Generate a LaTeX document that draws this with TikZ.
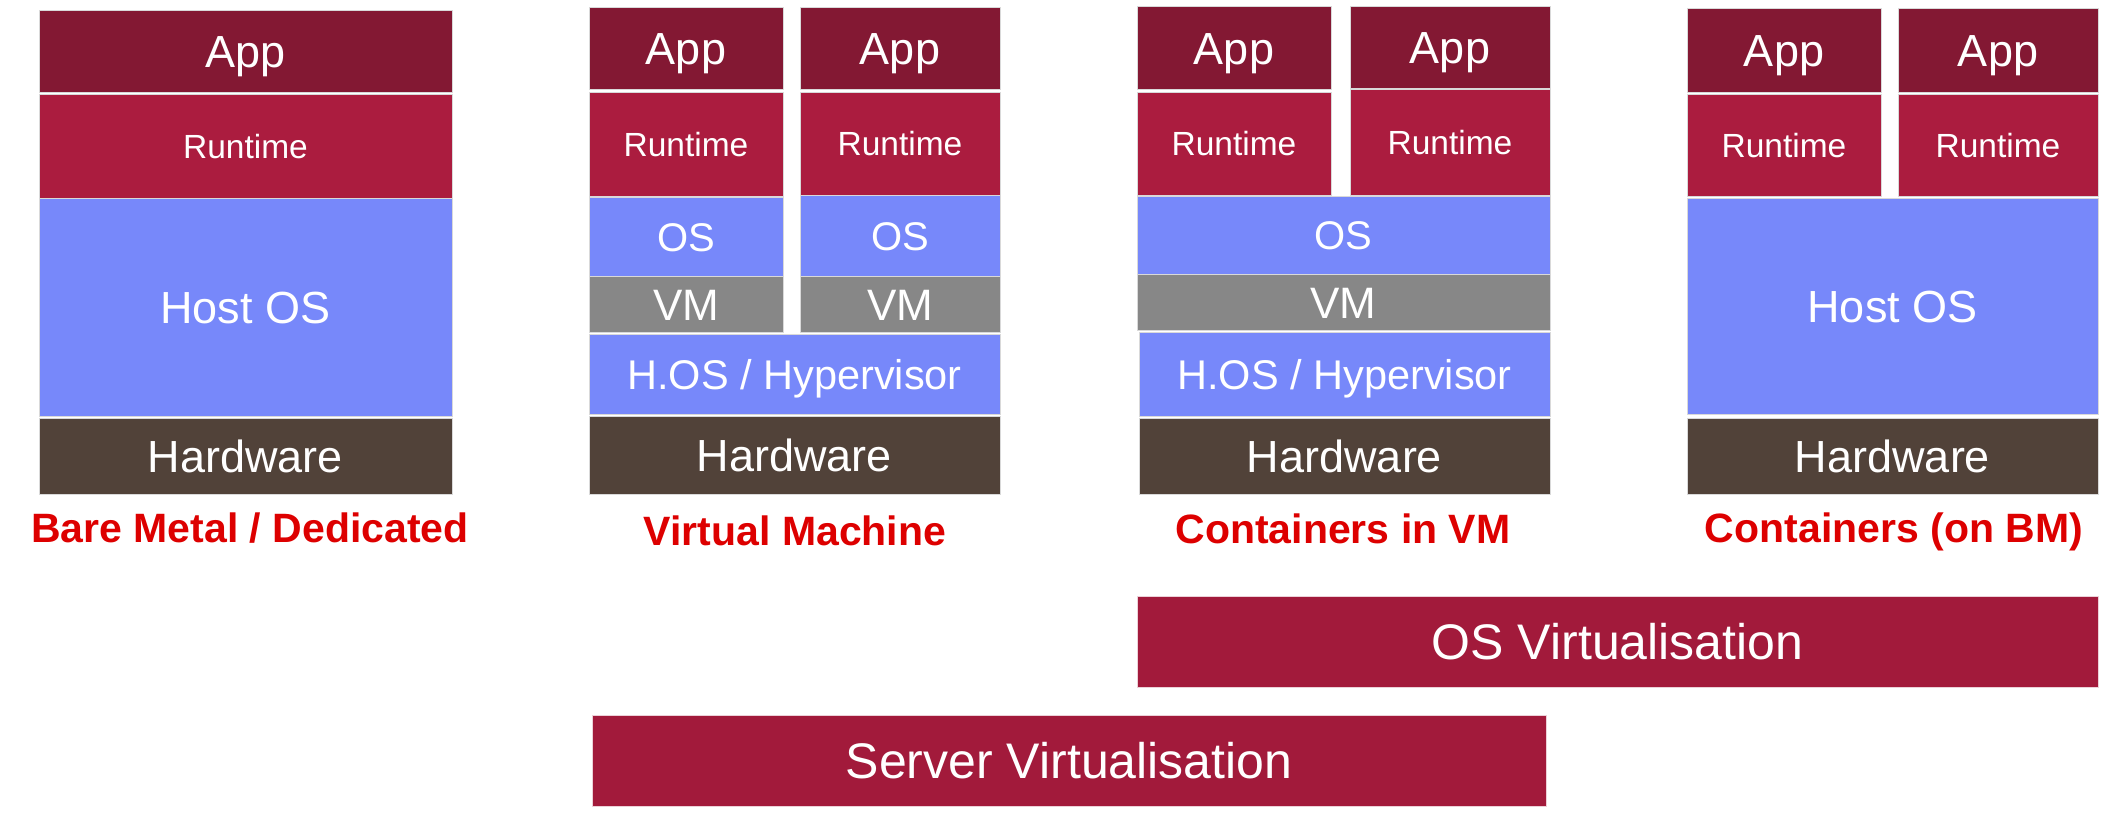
\documentclass[tikz,border=0pt]{standalone}
\usepackage{fontspec}
\setmainfont{Liberation Sans}
\definecolor{appc}{HTML}{831833}
\definecolor{runc}{HTML}{AB1C3F}
\definecolor{osc}{HTML}{7788FA}
\definecolor{vmc}{HTML}{878787}
\definecolor{hwc}{HTML}{514239}
\definecolor{virtc}{HTML}{A21A3B}
\definecolor{labc}{HTML}{DD0000}
\tikzset{
  blk/.style={rectangle, inner sep=0pt, outer sep=0pt, draw=white!85!black, line width=0.8pt, text=white, text depth=0pt},
  appbox/.style={blk, fill=appc, font=\fontsize{45}{50}\selectfont, text height=32.2pt},
  runbox/.style={blk, fill=runc, font=\fontsize{33.5}{38}\selectfont, text height=24pt},
  osbox/.style={blk, fill=osc, font=\fontsize{40}{46}\selectfont, text height=28.6pt},
  hypbox/.style={blk, fill=osc, font=\fontsize{41.5}{46}\selectfont, text height=29.7pt},
  hostbox/.style={blk, fill=osc, font=\fontsize{45}{50}\selectfont, text height=32.2pt},
  vmbox/.style={blk, fill=vmc, font=\fontsize{44}{50}\selectfont, text height=31.5pt},
  hwbox/.style={blk, fill=hwc, font=\fontsize{45}{50}\selectfont, text height=32.2pt},
  virtbox/.style={blk, draw=white!80!virtc, fill=virtc, font=\fontsize{50}{56}\selectfont, text height=35.8pt},
  caption/.style={anchor=base, text=labc, inner sep=0pt, font=\bfseries\fontsize{41}{46}\selectfont},
}
\begin{document}
\begin{tikzpicture}[x=1pt,y=-1pt]
\useasboundingbox (0,0) rectangle (2120,825);
% Bare metal
\node[appbox, minimum width=413, minimum height=82] (a1) at (245.5,51.5) {App};
\node[runbox, minimum width=413, minimum height=104.5] (r1) at (245.5,146.3) {Runtime};
\node[hostbox, minimum width=413, minimum height=218] (h1) at (245.5,307.5) {Host OS};
\node[hwbox, minimum width=413, minimum height=76] (w1) at (245.5,456.3) {Hardware};
\node[caption] (c1) at (250,542) {Bare Metal / Dedicated};
% Virtual machine
\node[appbox, minimum width=194, minimum height=82] (a2l) at (686,48.8) {App};
\node[appbox, minimum width=200, minimum height=82] (a2r) at (900,48.8) {App};
\node[runbox, minimum width=194, minimum height=104.8] (r2l) at (686,144.3) {Runtime};
\node[runbox, minimum width=200, minimum height=103] (r2r) at (900,143.4) {Runtime};
\node[osbox, minimum width=194, minimum height=78.5] (o2l) at (686,237) {OS};
\node[osbox, minimum width=200, minimum height=80.5] (o2r) at (900,236) {OS};
\node[vmbox, minimum width=194, minimum height=56] (v2l) at (686,304.8) {VM};
\node[vmbox, minimum width=200, minimum height=56] (v2r) at (900,304.8) {VM};
\node[hypbox, minimum width=411, minimum height=80] (hy2) at (794.5,374.6) {H.OS / Hypervisor};
\node[hwbox, minimum width=411, minimum height=78] (w2) at (794.5,455.4) {Hardware};
\node[caption] (c2) at (795,545.6) {Virtual Machine};
% Containers in VM
\node[appbox, minimum width=194, minimum height=83.6] (a3l) at (1234,47.9) {App};
\node[appbox, minimum width=200, minimum height=81.8] (a3r) at (1450,47) {App};
\node[runbox, minimum width=194, minimum height=103] (r3l) at (1234,143.4) {Runtime};
\node[runbox, minimum width=200, minimum height=105.2] (r3r) at (1450,142.3) {Runtime};
\node[osbox, minimum width=413, minimum height=77.2] (o3) at (1343.5,235.3) {OS};
\node[vmbox, minimum width=413, minimum height=55.7] (v3) at (1343.5,302.5) {VM};
\node[hypbox, minimum width=411, minimum height=83.6] (hy3) at (1344.5,374.6) {H.OS / Hypervisor};
\node[hwbox, minimum width=411, minimum height=76] (w3) at (1344.5,456.3) {Hardware};
\node[caption] (c3) at (1343,543.8) {Containers in VM};
% Containers on BM
\node[appbox, minimum width=194, minimum height=84.4] (a4l) at (1784,50.1) {App};
\node[appbox, minimum width=200, minimum height=84.4] (a4r) at (1998,50.1) {App};
\node[runbox, minimum width=194, minimum height=102.6] (r4l) at (1784,145.4) {Runtime};
\node[runbox, minimum width=200, minimum height=102.6] (r4r) at (1998,145.4) {Runtime};
\node[hostbox, minimum width=411, minimum height=216] (h4) at (1892.5,306.5) {Host OS};
\node[hwbox, minimum width=411, minimum height=76] (w4) at (1892.5,456.3) {Hardware};
\node[caption] (c4) at (1894,542) {Containers (on BM)};
% Virtualisation bars
\node[virtbox, minimum width=961, minimum height=91] (osv) at (1617.5,641.5) {OS Virtualisation};
\node[virtbox, minimum width=954, minimum height=91] (srv) at (1069,760.5) {Server Virtualisation};
\end{tikzpicture}
\end{document}
